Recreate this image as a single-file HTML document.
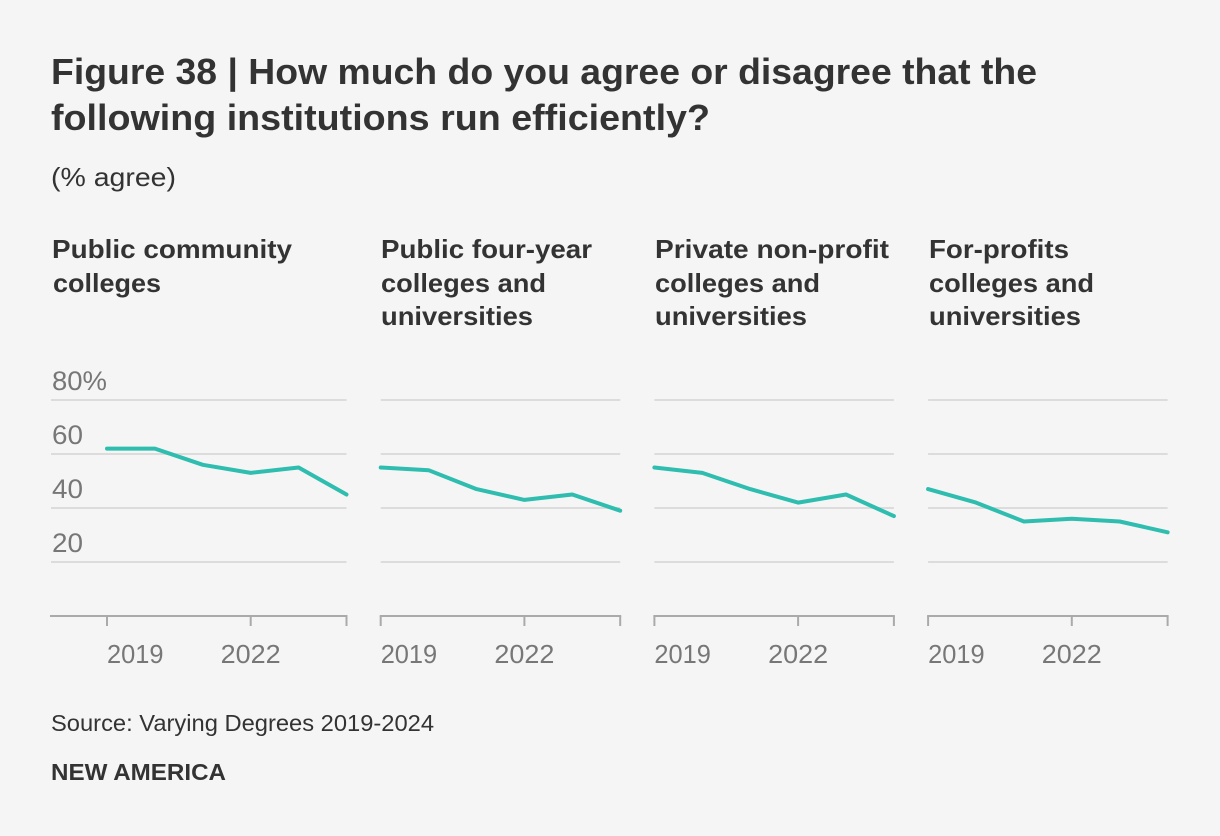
<!DOCTYPE html>
<html lang="en">
<head>
<meta charset="utf-8">
<title>Figure 38</title>
<style>
  html, body { margin: 0; padding: 0; background: #f5f5f5; }
  svg { display: block; font-family: "Liberation Sans", sans-serif; }
  .title { font-size: 36px; font-weight: 700; fill: #333; }
  .sub { font-size: 26px; fill: #333; }
  .panel-title { font-size: 26px; font-weight: 700; fill: #333; }
  .tick { font-size: 26px; fill: #777; }
  .ytick { font-size: 27px; fill: #777; }
  .source { font-size: 23px; fill: #333; }
  .brand { font-size: 23px; font-weight: 700; fill: #333; }
</style>
</head>
<body>
<svg id="chart" xmlns="http://www.w3.org/2000/svg" width="1220" height="836" viewBox="0 0 1220 836">
  <rect x="0" y="0" width="1220" height="836" fill="#f5f5f5"/>
  <g>
    <text class="title" x="51" y="84" textLength="986" lengthAdjust="spacingAndGlyphs">Figure 38 | How much do you agree or disagree that the</text>
    <text class="title" x="51" y="130" textLength="659" lengthAdjust="spacingAndGlyphs">following institutions run efficiently?</text>
  </g>
  <text class="sub" x="51" y="186" textLength="125" lengthAdjust="spacingAndGlyphs">(% agree)</text>

  <g>
    <text class="panel-title" x="52" y="258" textLength="240" lengthAdjust="spacingAndGlyphs">Public community</text>
    <text class="panel-title" x="53" y="292" textLength="108" lengthAdjust="spacingAndGlyphs">colleges</text>
  </g>
  <g>
    <text class="panel-title" x="381" y="258" textLength="211" lengthAdjust="spacingAndGlyphs">Public four-year</text>
    <text class="panel-title" x="381" y="292" textLength="165" lengthAdjust="spacingAndGlyphs">colleges and</text>
    <text class="panel-title" x="381" y="325" textLength="152" lengthAdjust="spacingAndGlyphs">universities</text>
  </g>
  <g>
    <text class="panel-title" x="655" y="258" textLength="234" lengthAdjust="spacingAndGlyphs">Private non-profit</text>
    <text class="panel-title" x="655" y="292" textLength="165" lengthAdjust="spacingAndGlyphs">colleges and</text>
    <text class="panel-title" x="655" y="325" textLength="152" lengthAdjust="spacingAndGlyphs">universities</text>
  </g>
  <g>
    <text class="panel-title" x="929" y="258" textLength="140" lengthAdjust="spacingAndGlyphs">For-profits</text>
    <text class="panel-title" x="929" y="292" textLength="165" lengthAdjust="spacingAndGlyphs">colleges and</text>
    <text class="panel-title" x="929" y="325" textLength="152" lengthAdjust="spacingAndGlyphs">universities</text>
  </g>

  <g id="plots"></g>

  <text class="source" x="51" y="731" textLength="383" lengthAdjust="spacingAndGlyphs">Source: Varying Degrees 2019-2024</text>
  <text class="brand" x="51" y="780" textLength="175" lengthAdjust="spacingAndGlyphs">NEW AMERICA</text>
</svg>
<script>
var years = [2019, 2020, 2021, 2022, 2023, 2024];
var yTicks = [20, 40, 60, 80];
var yTickLabels = ["20", "40", "60", "80%"];
var xTickYears = [2019, 2022];
var xTickLabels = ["2019", "2022"];
var publicCommunity = [62, 62, 56, 53, 55, 45];
var publicFourYear = [55, 54, 47, 43, 45, 39];
var privateNonProfit = [55, 53, 47, 42, 45, 37];
var forProfits = [47, 42, 35, 36, 35, 31];
var panelSeries = [publicCommunity, publicFourYear, privateNonProfit, forProfits];
var panelNames = ["public-community", "public-four-year", "private-non-profit", "for-profits"];

var NS = "http://www.w3.org/2000/svg";
var plots = document.getElementById("plots");
var PANEL_START = 107, PANEL_GAP = 273.7, YEAR_STEP = 47.9, BASE_Y = 616, UNIT_Y = 2.7;

function xScale(panelIndex, year) {
  return PANEL_START + panelIndex * PANEL_GAP + (year - years[0]) * YEAR_STEP;
}
function yScale(value) {
  return BASE_Y - value * UNIT_Y;
}
function make(tag, attrs, parent) {
  var el = document.createElementNS(NS, tag);
  for (var k in attrs) el.setAttribute(k, attrs[k]);
  parent.appendChild(el);
  return el;
}
function yLabelWidth(label) {
  return label.length === 3 ? 55 : 31;
}
function xLabelWidth(i) {
  return i === 0 ? 56.5 : 60;
}

panelSeries.forEach(function (series, p) {
  var g = make("g", {}, plots);
  
  

  var right = xScale(p, years[years.length - 1]);
  var left = p === 0 ? 51 : xScale(p, years[0]);

  yTicks.forEach(function (t, i) {
    var grid = make("line", { x1: left, x2: right, y1: yScale(t), y2: yScale(t), stroke: "#dcdcdc", "stroke-width": 2 }, g);
    
    
    if (p === 0) {
      var lab = make("text", { x: 52, y: yScale(t) - 10, "class": "ytick", textLength: yLabelWidth(yTickLabels[i]), lengthAdjust: "spacingAndGlyphs" }, g);
      lab.textContent = yTickLabels[i];
      
      
    }
  });

  var axis = make("line", { x1: left - 1, x2: right + 1, y1: BASE_Y, y2: BASE_Y, stroke: "#aaaaaa", "stroke-width": 2 }, g);
  
  

  xTickYears.concat([years[years.length - 1]]).forEach(function (yr) {
    var tx = xScale(p, yr);
    var tick = make("line", { x1: tx, x2: tx, y1: BASE_Y, y2: BASE_Y + 10, stroke: "#aaaaaa", "stroke-width": 2 }, g);
    
    
  });

  xTickYears.forEach(function (yr, i) {
    var lx = xScale(p, yr);
    var txt = make("text", { x: lx, y: 663, "class": "tick", "text-anchor": i === 0 ? "start" : "middle", textLength: xLabelWidth(i), lengthAdjust: "spacingAndGlyphs" }, g);
    txt.textContent = xTickLabels[i];
    
    
  });

  var pts = series.map(function (v, i) {
    return xScale(p, years[i]) + "," + yScale(v);
  }).join(" ");
  var line = make("polyline", { points: pts, fill: "none", stroke: "#2ebdaf", "stroke-width": 4, "stroke-linecap": "round", "stroke-linejoin": "round" }, g);
  
  
});
</script>
</body>
</html>
